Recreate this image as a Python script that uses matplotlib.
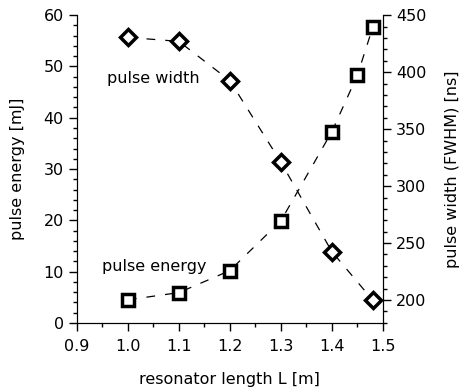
import matplotlib
matplotlib.use("Agg")
import matplotlib.pyplot as plt
from matplotlib.ticker import MultipleLocator

plt.rcParams['font.family'] = ['DejaVu Sans']

# data
laenge_breite = [1.0, 1.1, 1.2, 1.3, 1.4, 1.48]
pulsbreite = [430.5, 427, 392.5, 321, 242.5, 200]   # ns
laenge_energie = [1.0, 1.1, 1.2, 1.3, 1.4, 1.45, 1.48]
pulsenergie = [4.5, 5.9, 10.2, 19.9, 37.3, 48.3, 57.6]   # mJ

fig = plt.figure(figsize=(4.63, 3.89), dpi=100)
ax = fig.add_axes([0.166, 0.170, 0.661, 0.791])
ax2 = ax.twinx()

# energy on left axis
ax.plot(laenge_energie, pulsenergie, color='black', linestyle=(0, (7, 8)), linewidth=0.9,
        marker='s', markersize=8.5, markerfacecolor='white', markeredgecolor='black',
        markeredgewidth=2.5)
# width on right axis
ax2.plot(laenge_breite, pulsbreite, color='black', linestyle=(0, (7, 8)), linewidth=0.9,
         marker='D', markersize=8, markerfacecolor='white', markeredgecolor='black',
         markeredgewidth=2.5)

ax.set_xlim(0.9, 1.5)
ax.set_ylim(0, 60)
ax2.set_ylim(180, 450)

ax.xaxis.set_major_locator(MultipleLocator(0.1))
ax.xaxis.set_minor_locator(MultipleLocator(0.05))
ax.yaxis.set_major_locator(MultipleLocator(10))
ax.yaxis.set_minor_locator(MultipleLocator(2))
ax2.set_yticks([200, 250, 300, 350, 400, 450])
ax2.yaxis.set_minor_locator(MultipleLocator(10))

ax.xaxis.set_major_formatter(plt.FuncFormatter(lambda v, p: f'{v:.1f}'))

for a in (ax, ax2):
    a.spines['top'].set_visible(False)
    a.tick_params(which='major', length=5.5, width=1, labelsize=11.5, direction='out', pad=4)
    a.tick_params(which='minor', length=3, width=1, direction='out')
ax.tick_params(axis='x', which='major', pad=6)

ax.set_xlabel('resonator length L [m]', fontsize=11.5, labelpad=13)
ax.set_ylabel('pulse energy [mJ]', fontsize=11.5, labelpad=13)
ax2.set_ylabel('pulse width (FWHM) [ns]', fontsize=11.5, labelpad=13)

ax.text(0.959, 47.7, 'pulse width', fontsize=11.5, va='center', ha='left')
ax.text(0.949, 10.9, 'pulse energy', fontsize=11.5, va='center', ha='left')

fig.savefig('out.png', dpi=100)
